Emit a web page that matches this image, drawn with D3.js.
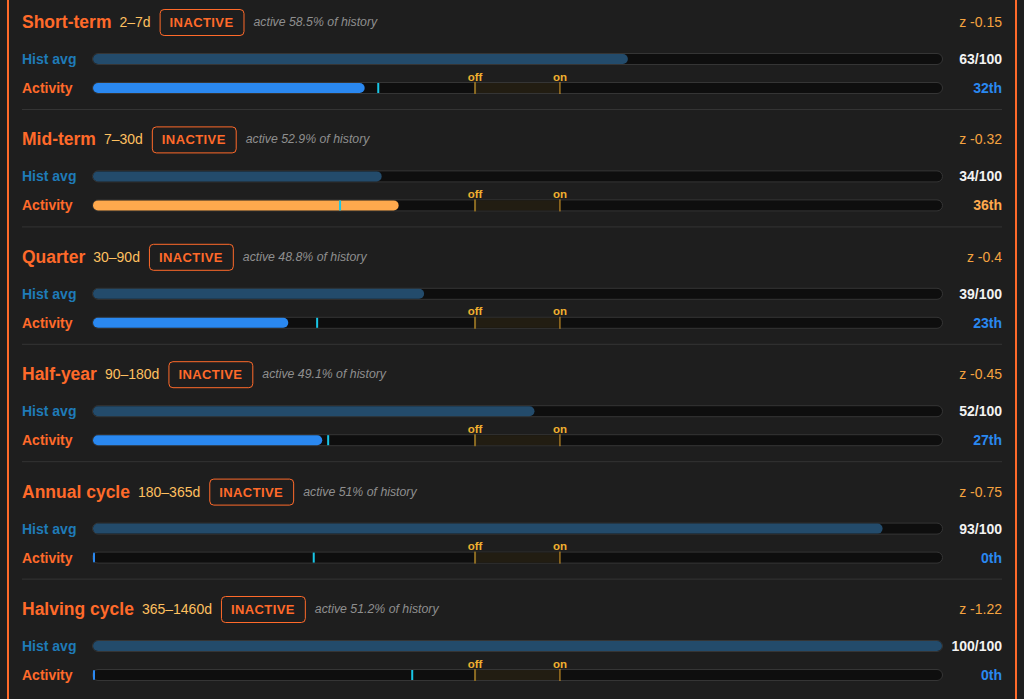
<!DOCTYPE html>
<html>
<head>
<meta charset="utf-8">
<script src="https://cdn.jsdelivr.net/npm/d3@7"></script>
<style>
  html, body { margin: 0; padding: 0; background: #1e1e1e; }
  svg { display: block; font-family: "Liberation Sans", Arial, sans-serif; }
</style>
</head>
<body>
<div id="chart"></div>
<script>
// cycle data
var names = ["Short-term", "Mid-term", "Quarter", "Half-year", "Annual cycle", "Halving cycle"];
var ranges = ["2\u20137d", "7\u201330d", "30\u201390d", "90\u2013180d", "180\u2013365d", "365\u20131460d"];
var states = ["INACTIVE", "INACTIVE", "INACTIVE", "INACTIVE", "INACTIVE", "INACTIVE"];
var activeShare = [58.5, 52.9, 48.8, 49.1, 51, 51.2];
var zScores = [-0.15, -0.32, -0.4, -0.45, -0.75, -1.22];
var histAvg = [63, 34, 39, 52, 93, 100];
var activity = [32, 36, 23, 27, 0, 0];
var reference = [33.6, 29.1, 26.4, 27.7, 26, 37.6];
var thresholds = {off: 45, on: 55};

var W = 1024, H = 699;
var rowH = 117.4;

var svg = d3.select("#chart")
  .append("svg")
    .attr("width", W)
    .attr("height", H);

svg.append("rect").attr("width", W).attr("height", H).attr("fill", "#1e1e1e");

// side borders
svg.append("rect").attr("x", 7).attr("y", 0).attr("width", 2).attr("height", H).attr("fill", "#ff6a2a");
svg.append("rect").attr("x", 1015).attr("y", 0).attr("width", 2).attr("height", H).attr("fill", "#ff6a2a");

var x = d3.scaleLinear().domain([0, 100]).range([93, 942]);

names.forEach(function(name, i) {
  var g = svg.append("g").attr("transform", "translate(0," + (i * rowH) + ")");

  // header line
  var title = g.append("text")
    .attr("x", 22).attr("y", 28)
    .attr("fill", "#ff6a2a")
    .style("font-size", "17.5px").style("font-weight", "bold")
    .text(name);
  var tx = 22 + title.node().getComputedTextLength() + 8;

  var rng = g.append("text")
    .attr("x", tx).attr("y", 27)
    .attr("fill", "#ffc060")
    .style("font-size", "14px")
    .text(ranges[i]);
  var bx = tx + rng.node().getComputedTextLength() + 9;

  var badge = g.append("text")
    .attr("y", 27)
    .attr("fill", "#ff6a2a")
    .style("font-size", "13px").style("font-weight", "bold")
    .style("letter-spacing", "0.4px")
    .text(states[i]);
  var bw = badge.node().getComputedTextLength() + 20;
  badge.attr("x", bx + 10);
  g.append("rect")
    .attr("x", bx + 0.5).attr("y", 9.5)
    .attr("width", bw).attr("height", 26)
    .attr("rx", 4)
    .attr("fill", "none").attr("stroke", "#ff6a2a").attr("stroke-width", 1);

  g.append("text")
    .attr("x", bx + bw + 10).attr("y", 26)
    .attr("fill", "#8f8f8f")
    .style("font-size", "12.3px").style("font-style", "italic")
    .text("active " + activeShare[i] + "% of history");

  g.append("text")
    .attr("x", 1002).attr("y", 27)
    .attr("text-anchor", "end")
    .attr("fill", "#f5a340")
    .style("font-size", "14px")
    .text("z " + zScores[i]);

  // labels
  g.append("text")
    .attr("x", 22).attr("y", 64)
    .attr("fill", "#1f7bb8")
    .style("font-size", "14px").style("font-weight", "bold")
    .text("Hist avg");
  g.append("text")
    .attr("x", 22).attr("y", 93)
    .attr("fill", "#ff6a2a")
    .style("font-size", "14px").style("font-weight", "bold")
    .text("Activity");

  // tracks
  [54, 83].forEach(function(ty) {
    g.append("rect")
      .attr("x", x(0) - 0.5).attr("y", ty - 0.5)
      .attr("width", x(100) - x(0) + 1).attr("height", 11)
      .attr("rx", 5.5)
      .attr("fill", "#0e0e0e").attr("stroke", "#353535").attr("stroke-width", 1);
  });

  // hist avg bar
  g.append("rect")
    .attr("x", x(0)).attr("y", 54)
    .attr("width", x(histAvg[i]) - x(0)).attr("height", 10)
    .attr("rx", 5)
    .attr("fill", "#234b6b");

  // threshold zone
  g.append("rect")
    .attr("x", x(thresholds.off)).attr("y", 83)
    .attr("width", x(thresholds.on) - x(thresholds.off)).attr("height", 10)
    .attr("fill", "#221d12");

  // activity bar
  var rising = activity[i] > reference[i];
  var aw = Math.max(x(activity[i]) - x(0), 2);
  g.append("rect")
    .attr("x", x(0)).attr("y", 83)
    .attr("width", aw).attr("height", 10)
    .attr("rx", Math.min(5, aw / 2))
    .attr("fill", rising ? "#ffa94d" : "#2a88f0");

  // reference marker
  g.append("rect")
    .attr("x", x(reference[i]) - 1).attr("y", 83)
    .attr("width", 2).attr("height", 10)
    .attr("fill", "#19c6e6");

  // off / on markers
  g.append("rect")
    .attr("x", x(thresholds.off) - 1).attr("y", 82)
    .attr("width", 2).attr("height", 12)
    .attr("fill", "#8a6a22");
  g.append("rect")
    .attr("x", x(thresholds.on) - 0.5).attr("y", 82)
    .attr("width", 1).attr("height", 12)
    .attr("fill", "#e0a028");
  g.append("text")
    .attr("x", x(thresholds.off)).attr("y", 80.5)
    .attr("text-anchor", "middle")
    .attr("fill", "#f0b030")
    .style("font-size", "11.5px").style("font-weight", "bold")
    .text("off");
  g.append("text")
    .attr("x", x(thresholds.on)).attr("y", 80.5)
    .attr("text-anchor", "middle")
    .attr("fill", "#f0b030")
    .style("font-size", "11.5px").style("font-weight", "bold")
    .text("on");

  // values
  g.append("text")
    .attr("x", 1002).attr("y", 64)
    .attr("text-anchor", "end")
    .attr("fill", "#f2f2f2")
    .style("font-size", "14px").style("font-weight", "bold")
    .text(histAvg[i] + "/100");
  g.append("text")
    .attr("x", 1002).attr("y", 93)
    .attr("text-anchor", "end")
    .attr("fill", rising ? "#ffa94d" : "#2a88f0")
    .style("font-size", "14px").style("font-weight", "bold")
    .text(activity[i] + "th");

  // separator
  if (i < names.length - 1) {
    g.append("line")
      .attr("x1", 22).attr("x2", 1002)
      .attr("y1", 109.5).attr("y2", 109.5)
      .attr("stroke", "#343434").attr("stroke-width", 1);
  }
});
</script>
</body>
</html>
